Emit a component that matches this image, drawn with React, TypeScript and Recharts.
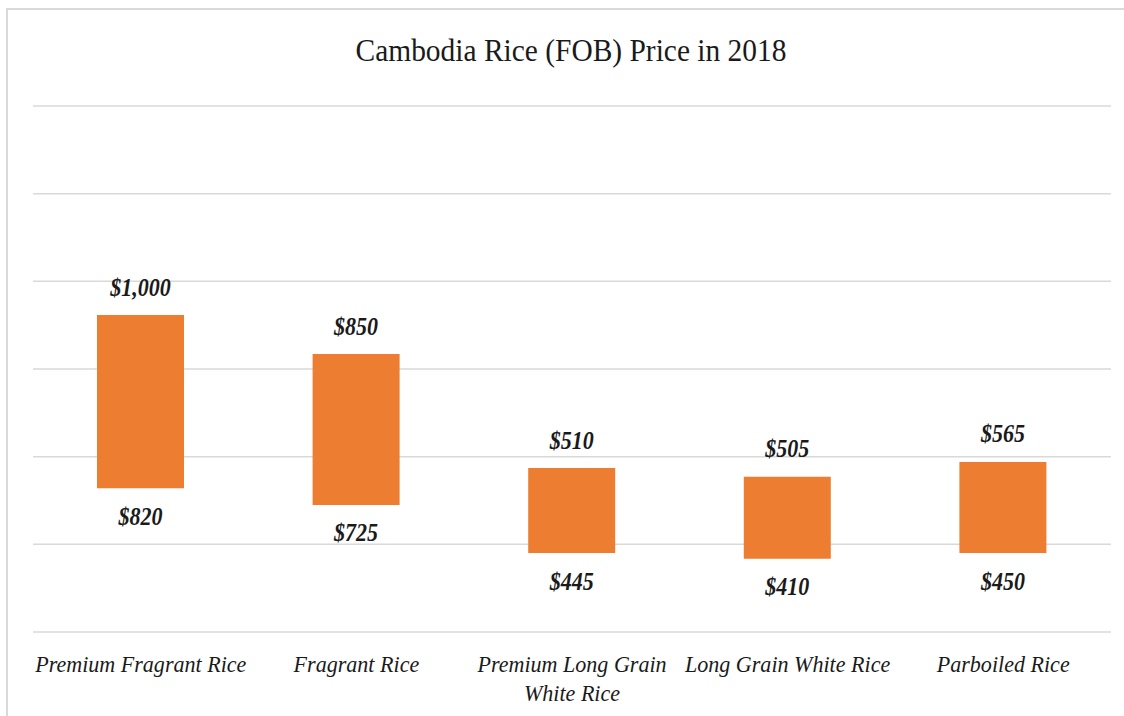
import { Bar, BarChart, CartesianGrid, LabelList, XAxis, YAxis } from 'recharts'

const categories = [
  'Premium Fragrant Rice',
  'Fragrant Rice',
  'Premium Long Grain White Rice',
  'Long Grain White Rice',
  'Parboiled Rice',
]

// printed prices (data labels)
const highPrice = [1000, 850, 510, 505, 565]
const lowPrice = [820, 725, 445, 410, 450]

// bar extents as plotted in the picture (axis runs 0..1200)
const barLow = [328, 290, 180, 167, 180]
const barHigh = [723, 634, 374, 354, 388]

const yTicks = [0, 200, 400, 600, 800, 1000, 1200]

const chartData = categories.map((name, i) => ({
  name,
  range: [barLow[i], barHigh[i]],
}))

const serif = '"Liberation Serif", "Times New Roman", serif'

const money = (v: number) => '$' + v.toLocaleString('en-US')

function wrap(text: string, max = 21) {
  const lines: string[] = []
  let cur = ''
  text.split(' ').forEach((w) => {
    const next = cur ? cur + ' ' + w : w
    if (next.length > max && cur) {
      lines.push(cur)
      cur = w
    } else {
      cur = next
    }
  })
  if (cur) lines.push(cur)
  return lines
}

function CategoryTick(props: any) {
  const { x, y, payload } = props
  const lines = wrap(payload.value)
  return (
    <g transform={`translate(${x},${y}) scale(0.92,1)`}>
      {lines.map((line, i) => (
        <text
          key={i}
          x={0}
          y={40 + i * 29}
          textAnchor="middle"
          fontFamily={serif}
          fontStyle="italic"
          fontSize={24}
          fill="#1a1a1a"
        >
          {line}
        </text>
      ))}
    </g>
  )
}

function PriceLabel(props: any, which: 'high' | 'low') {
  const { x, y, width, height, index } = props
  const top = Math.min(y, y + height)
  const bottom = Math.max(y, y + height)
  const cx = x + width / 2
  const cy = which === 'high' ? top - 28 : bottom + 28
  const text = money(which === 'high' ? highPrice[index] : lowPrice[index])
  return (
    <g transform={`translate(${cx},${cy + 8.5}) scale(0.88,1)`}>
      <text
        x={0}
        y={0}
        textAnchor="middle"
        fontFamily={serif}
        fontStyle="italic"
        fontWeight="bold"
        fontSize={25}
        fill="#1a1a1a"
      >
        {text}
      </text>
    </g>
  )
}

export default function App() {
  return (
    <div style={{ position: 'absolute', left: 0, top: 0, width: 1124, height: 716, overflow: 'hidden', background: '#fff' }}>
      <div
        style={{
          position: 'absolute',
          left: 6,
          top: 8,
          width: 1300,
          height: 900,
          borderTop: '2px solid #d9d9d9',
          borderLeft: '2px solid #d9d9d9',
        }}
      />
      <div
        style={{
          position: 'absolute',
          left: 571,
          top: 50,
          transform: 'translate(-50%, -50%) scaleX(0.92)',
          whiteSpace: 'nowrap',
          fontFamily: serif,
          fontSize: 32,
          color: '#1a1a1a',
        }}
      >
        Cambodia Rice (FOB) Price in 2018
      </div>
      <div style={{ position: 'absolute', left: 0, top: 0 }}>
        <BarChart
          width={1124}
          height={716}
          data={chartData}
          margin={{ top: 106, right: 13, bottom: 4, left: 33 }}
          barSize={87}
        >
          <CartesianGrid vertical={false} stroke="#d9d9d9" strokeWidth={1.5} />
          <YAxis
            domain={[0, 1200]}
            ticks={yTicks}
            width={0}
            tick={{ fontSize: 0, fill: 'none' }}
            axisLine={false}
            tickLine={false}
          />
          <XAxis
            dataKey="name"
            height={80}
            axisLine={false}
            tickLine={false}
            tickSize={0}
            tickMargin={0}
            interval={0}
            tick={<CategoryTick />}
          />
          <Bar dataKey="range" fill="#ED7D31" isAnimationActive={false}>
            <LabelList dataKey="range" content={(p: any) => PriceLabel(p, 'high')} />
            <LabelList dataKey="range" content={(p: any) => PriceLabel(p, 'low')} />
          </Bar>
        </BarChart>
      </div>
    </div>
  )
}
